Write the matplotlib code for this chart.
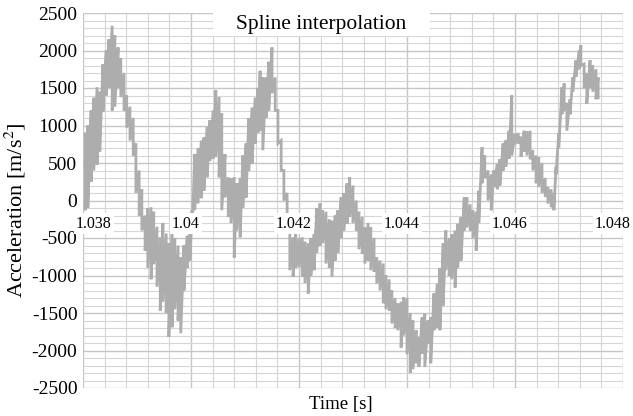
import numpy as np
import matplotlib
matplotlib.use("Agg")
import matplotlib.pyplot as plt
import matplotlib.transforms as mtransforms
from matplotlib.patches import Rectangle
from matplotlib.ticker import MultipleLocator, FixedLocator

# ---- data (time in s, envelope of the noisy trace) ----
time_s = [1.03804, 1.03809, 1.03815, 1.03820, 1.03826, 1.03831, 1.03837, 1.03843, 1.03848,
          1.03854, 1.03859, 1.03865, 1.03870, 1.03876, 1.03881, 1.03887, 1.03893, 1.03898,
          1.03904, 1.03909, 1.03915, 1.03920, 1.03926, 1.03931, 1.03937, 1.03943, 1.03948,
          1.03954, 1.03959, 1.03965, 1.03970, 1.03976, 1.03981, 1.03987, 1.03993, 1.03998,
          1.04002, 1.04007, 1.04013, 1.04019, 1.04024, 1.04030, 1.04035, 1.04041, 1.04046,
          1.04052, 1.04057, 1.04063, 1.04069, 1.04074, 1.04080, 1.04085, 1.04091, 1.04096,
          1.04102, 1.04107, 1.04113, 1.04119, 1.04124, 1.04128, 1.04133, 1.04139, 1.04144,
          1.04150, 1.04156, 1.04161, 1.04167, 1.04172, 1.04178, 1.04183, 1.04189, 1.04194,
          1.04200, 1.04206, 1.04211, 1.04217, 1.04222, 1.04228, 1.04233, 1.04239, 1.04244,
          1.04250, 1.04256, 1.04261, 1.04267, 1.04272, 1.04278, 1.04283, 1.04289, 1.04294,
          1.04300, 1.04306, 1.04311, 1.04317, 1.04322, 1.04328, 1.04333, 1.04339, 1.04344,
          1.04350, 1.04356, 1.04361, 1.04367, 1.04372, 1.04378, 1.04383, 1.04389, 1.04394,
          1.04400, 1.04406, 1.04411, 1.04417, 1.04422, 1.04428, 1.04433, 1.04439, 1.04444,
          1.04450, 1.04456, 1.04461, 1.04467, 1.04472, 1.04478, 1.04483, 1.04489, 1.04494,
          1.04500, 1.04506, 1.04511, 1.04517, 1.04522, 1.04528, 1.04533, 1.04539, 1.04544,
          1.04550, 1.04556, 1.04561, 1.04567, 1.04572, 1.04578, 1.04583, 1.04589, 1.04594,
          1.04600, 1.04606, 1.04611, 1.04617, 1.04622, 1.04628, 1.04633, 1.04639, 1.04644,
          1.04650, 1.04656, 1.04661, 1.04667, 1.04672, 1.04676, 1.04681, 1.04687, 1.04691,
          1.04696, 1.04702, 1.04707, 1.04713, 1.04719, 1.04722, 1.04728, 1.04733, 1.04739,
          1.04744, 1.04750, 1.04754]
upper = [890, 1000, 1200, 1370, 1510, 1450, 1820, 2000, 2150,
         2330, 2200, 2040, 1900, 1700, 1400, 1250, 1100, 760,
         400, 150, -200, -100, -90, -150, -350, -490, -300,
         -440, -570, -310, -500, -600, -760, -600, -470, -450,
         -130, 620, 700, 800, 840, 980, 1070, 1200, 1470,
         1380, 1160, 620, 310, 300, 310, 230, 300, 600,
         760, 1100, 1240, 1370, 1500, 1730, 1640, 1640, 1850,
         2040, 1640, 1200, 800, 400, 100, -360, -490, -450,
         -500, -490, -550, -570, -500, -400, -100, -40, -130,
         -150, -250, -270, -200, -130, 40, 100, 230, 310,
         200, 0, -150, -220, -360, -300, -360, -500, -760,
         -800, -840, -1000, -1050, -1200, -1300, -1370, -1350, -1290,
         -1300, -1500, -1600, -1730, -1820, -1560, -1510, -1600, -1560,
         -1240, -1110, -900, -570, -400, -500, -450, -400, -310,
         -220, 40, 40, -50, -130, -150, 130, 710, 600,
         400, 350, 400, 490, 550, 760, 800, 930, 1400,
         890, 900, 850, 930, 920, 930, 670, 600, 580,
         500, 300, 180, 150, 100, 450, 900, 1510, 1560,
         1300, 1350, 1640, 1870, 2000, 2070, 1820, 1700, 1870,
         1800, 1750, 1640]
lower = [-130, -100, 250, 400, 480, 650, 1180, 1400, 1500,
         1200, 1250, 1500, 1380, 1200, 970, 800, 600, 100,
         -200, -400, -670, -900, -1050, -850, -1150, -1470, -1350,
         -1500, -1820, -1690, -1450, -1600, -1770, -1200, -900, -800,
         -440, -130, -40, 30, 130, 310, 530, 560, 580,
         310, -130, 40, -220, -300, -760, -400, -490, -100,
         40, 400, 490, 760, 900, 930, 670, 1100, 1200,
         1430, 1200, 760, 400, 0, -200, -930, -1020, -900,
         -890, -1020, -1100, -1240, -1000, -930, -700, -600, -570,
         -840, -900, -1020, -800, -700, -500, -400, -310, -220,
         -300, -400, -650, -710, -840, -800, -930, -950, -1110,
         -1200, -1370, -1450, -1470, -1640, -1700, -1730, -1960, -1800,
         -2050, -2300, -2250, -2170, -2220, -2040, -2220, -1910, -2170,
         -1730, -1700, -1730, -1400, -930, -1000, -1050, -1160, -900,
         -800, -400, -360, -400, -500, -670, -300, 230, 300,
         0, -130, 180, 150, 200, 400, 450, 560, 600,
         750, 760, 580, 650, 600, 550, 400, 230, 180,
         100, 50, -40, -90, -130, 350, 700, 1150, 1200,
         930, 1150, 1450, 1650, 1750, 1800, 1500, 1290, 1500,
         1450, 1350, 1370]

x_ticks = [1.038, 1.040, 1.042, 1.044, 1.046, 1.048]
x_tick_labels = ["1.038", "1.04", "1.042", "1.044", "1.046", "1.048"]
y_ticks = [2500, 2000, 1500, 1000, 500, 0, -500, -1000, -1500, -2000, -2500]

title_text = "Spline interpolation"
x_label = "Time [s]"
y_label = "Acceleration [m/s$^2$]"

# ---- build the trace: vertical strokes between envelope values ----
t_arr = np.repeat(np.array(time_s), 2)
v_arr = np.empty(2 * len(upper))
v_arr[0::2] = upper
v_arr[1::2] = lower

plt.rcParams['font.family'] = ['Liberation Serif', 'DejaVu Serif']
plt.rcParams['mathtext.fontset'] = 'stix'
plt.rcParams['axes.unicode_minus'] = False

fig = plt.figure(figsize=(6.33, 4.16), dpi=100)
ax = fig.add_axes([83/633, 28/416, 540/633, 375/416])

ax.set_xlim(1.038, 1.048)
ax.set_ylim(-2500, 2500)

ax.xaxis.set_major_locator(FixedLocator(x_ticks))
ax.xaxis.set_minor_locator(MultipleLocator(0.0004))
ax.yaxis.set_major_locator(FixedLocator(y_ticks))
ax.yaxis.set_minor_locator(MultipleLocator(100))

ax.grid(which='major', color='#c6c6c6', linewidth=1.0)
ax.grid(which='minor', color='#d6d6d6', linewidth=0.8)
ax.set_axisbelow(True)

ax.plot(t_arr, v_arr, color='#adadad', linewidth=2.0, solid_joinstyle='miter', zorder=2)

for s in ax.spines.values():
    s.set_visible(False)

ax.tick_params(axis='both', which='both', length=0)
ax.tick_params(axis='x', labelbottom=False)
ax.tick_params(axis='y', labelsize=14, pad=4)

# x tick labels sit just below the zero line, on white boxes
x_offsets = [11, -5, -5, -5, -5, -10]
for tv, tl, dx in zip(x_ticks, x_tick_labels, x_offsets):
    tr = ax.transData + mtransforms.ScaledTranslation(dx / 100, -23 / 100, fig.dpi_scale_trans)
    ax.text(tv, 0, tl, transform=tr, ha='center', va='center', fontsize=11.5, zorder=7,
            clip_on=False,
            bbox=dict(facecolor='white', edgecolor='none', pad=1.5))

ax.set_xlabel(x_label, fontsize=13.5)
ax.xaxis.set_label_coords(0.478, -0.02)
ax.set_ylabel(y_label, fontsize=16)
ax.yaxis.set_label_coords(-0.102, 0.475)

# title box
ax.add_patch(Rectangle((0.241, 0.939), 0.402, 0.061, transform=ax.transAxes,
                       facecolor='white', edgecolor='none', zorder=5, clip_on=False))
ax.text(0.441, 0.968, title_text, transform=ax.transAxes, ha='center', va='center',
        fontsize=15.5, zorder=6)

fig.savefig('out.png', dpi=100)
